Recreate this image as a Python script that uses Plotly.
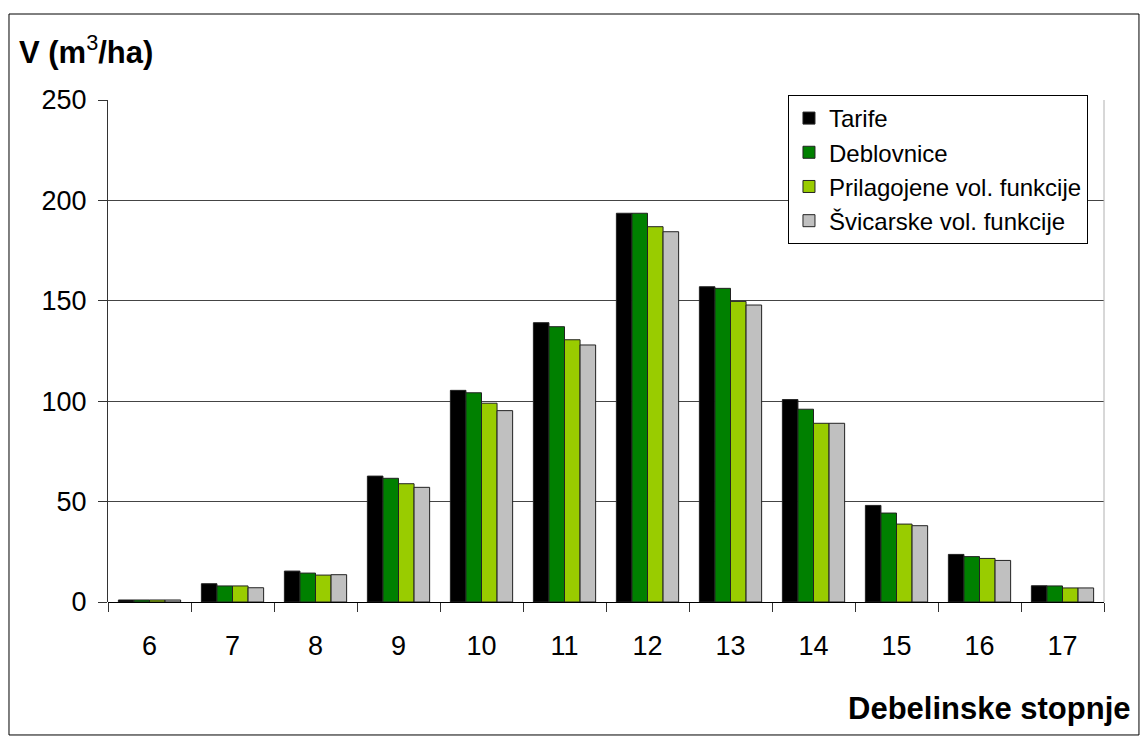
import plotly.graph_objects as go

# Diameter classes (debelinske stopnje)
categories = ["6", "7", "8", "9", "10", "11", "12", "13", "14", "15", "16", "17"]

# Growing stock per diameter class, m3/ha
tarife = [1.0, 9.1, 15.4, 62.7, 105.4, 139.1, 193.6, 157.0, 100.8, 48.1, 23.7, 8.1]
deblovnice = [1.0, 8.0, 14.4, 61.6, 104.2, 137.1, 193.6, 156.2, 96.0, 44.3, 22.6, 8.0]
prilagojene = [1.0, 8.0, 13.4, 58.9, 99.0, 130.6, 186.9, 149.7, 89.0, 38.8, 21.7, 7.0]
svicarske = [1.0, 7.1, 13.6, 57.1, 95.3, 128.0, 184.4, 147.9, 89.0, 38.0, 20.7, 7.0]

series_names = ["Tarife", "Deblovnice", "Prilagojene vol. funkcije", "Švicarske vol. funkcije"]
series_values = [tarife, deblovnice, prilagojene, svicarske]
series_colors = ["#000000", "#008000", "#99CC00", "#C0C0C0"]

y_ticks = [0, 50, 100, 150, 200, 250]

FONT = "Liberation Sans, Arial, sans-serif"

fig = go.Figure()
for i, (name, vals, col) in enumerate(zip(series_names, series_values, series_colors)):
    fig.add_trace(go.Bar(
        x=categories, y=vals, name=name,
        marker=dict(color=col, line=dict(color="#222222", width=1)),
        legendgroup=f"g{i}",
    ))

fig.update_layout(
    width=1147, height=736,
    margin=dict(l=108, r=43, t=100, b=134),
    paper_bgcolor="white", plot_bgcolor="white",
    barmode="group", bargap=0.25, bargroupgap=0,
    font=dict(family=FONT, color="black"),
    showlegend=True,
    legend=dict(
        x=0.6827, y=1.01, xanchor="left", yanchor="top",
        bgcolor="white", bordercolor="black", borderwidth=1,
        font=dict(family=FONT, size=24, color="black"),
        tracegroupgap=1, traceorder="normal",
        entrywidth=300, entrywidthmode="pixels",
    ),
    xaxis=dict(
        type="category", showgrid=False, showline=False,
        ticks="outside", ticklen=9, tickcolor="#333333", tickwidth=1,
        tickson="boundaries",
        tickfont=dict(family=FONT, size=27, color="black"),
        ticklabelstandoff=25,
    ),
    yaxis=dict(
        range=[0, 250], tickvals=y_ticks,
        showgrid=True, gridcolor="#444444", gridwidth=1,
        showline=True, linecolor="#333333", linewidth=1,
        zeroline=True, zerolinecolor="black", zerolinewidth=1,
        ticks="outside", ticklen=9, tickcolor="#333333",
        tickfont=dict(family=FONT, size=27, color="black"),
        ticklabelstandoff=6,
    ),
)

# light frame on the right side of the plot area
fig.add_shape(type="line", xref="paper", yref="paper", x0=1, x1=1, y0=0, y1=1,
              line=dict(color="#B0B0B0", width=1))

# outer frame of the chart
fig.add_shape(type="rect", xref="paper", yref="paper",
              x0=-0.0994, x1=1.0351, y0=-0.2649, y1=1.1713,
              line=dict(color="black", width=1), fillcolor="rgba(0,0,0,0)")

fig.add_annotation(
    text="<b>V (m</b><sup>3</sup><b>/ha)</b>", xref="paper", yref="paper",
    x=-0.0914, y=1.0996, xanchor="left", yanchor="middle", showarrow=False,
    font=dict(family=FONT, size=31, color="black"),
)
fig.add_annotation(
    text="<b>Debelinske stopnje</b>", xref="paper", yref="paper",
    x=1.0291, y=-0.2112, xanchor="right", yanchor="middle", showarrow=False,
    font=dict(family=FONT, size=31, color="black"),
)

fig.write_html("out.html")
